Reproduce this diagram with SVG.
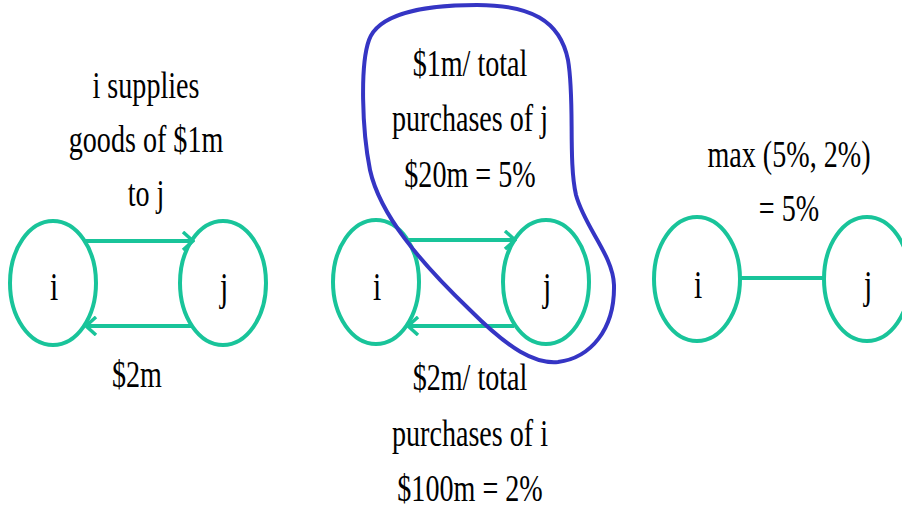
<svg xmlns="http://www.w3.org/2000/svg" width="902" height="508" viewBox="0 0 902 508">
<style>
.node{fill:none;stroke:#19C49A;stroke-width:4}
.edge{fill:none;stroke:#19C49A;stroke-width:4}
.t{font-family:"Liberation Serif","Times New Roman",serif;font-size:38px;fill:#000;text-anchor:middle}
.nl{font-size:40px}
.blob{fill:none;stroke:#3535C4;stroke-width:4}
</style>
<defs>
<marker id="arr" viewBox="0 0 14 20" refX="12" refY="10" markerWidth="14" markerHeight="20" markerUnits="userSpaceOnUse" orient="auto">
<polyline points="2,1 12,10 2,19" fill="none" stroke="#19C49A" stroke-width="3.5"/>
</marker>
</defs>
<rect width="902" height="508" fill="#fff"/>

<g id="connectors">
<line class="edge" x1="84" y1="241" x2="193" y2="241" marker-end="url(#arr)"/>
<line class="edge" x1="192" y1="326" x2="86" y2="326" marker-end="url(#arr)"/>
<line class="edge" x1="408" y1="240" x2="515" y2="240" marker-end="url(#arr)"/>
<line class="edge" x1="514" y1="326" x2="408" y2="326" marker-end="url(#arr)"/>
<line class="edge" x1="740" y1="278" x2="825" y2="278"/>
</g>

<g id="left-i"><ellipse class="node" cx="53" cy="283" rx="43" ry="62"/><g transform="translate(54 300) scale(0.74 1)"><text class="t nl" x="0" y="0">i</text></g></g>
<g id="left-j"><ellipse class="node" cx="223" cy="283" rx="43" ry="62"/><g transform="translate(224 300) scale(0.74 1)"><text class="t nl" x="0" y="0">j</text></g></g>
<g id="mid-i"><ellipse class="node" cx="376" cy="282" rx="43" ry="62"/><g transform="translate(377 300) scale(0.74 1)"><text class="t nl" x="0" y="0">i</text></g></g>
<g id="mid-j"><ellipse class="node" cx="546" cy="282" rx="43" ry="62"/><g transform="translate(547 300) scale(0.74 1)"><text class="t nl" x="0" y="0">j</text></g></g>
<g id="right-i"><ellipse class="node" cx="697" cy="279" rx="43" ry="62"/><g transform="translate(698 298) scale(0.74 1)"><text class="t nl" x="0" y="0">i</text></g></g>
<g id="right-j"><ellipse class="node" cx="867" cy="279" rx="43" ry="62"/><g transform="translate(868 298) scale(0.74 1)"><text class="t nl" x="0" y="0">j</text></g></g>

<g id="blob"><path class="blob" d="M477 5 C420 5 378 15 369 40 C360 65 362 130 370 170 C380 215 420 262 470 310 C510 350 535 364 558 362 C590 358 615 330 614 285 C613 255 585 228 576 195 C568 160 575 100 568 60 C560 20 530 5 477 5 Z"/></g>

<g id="labels">
<g transform="translate(146 0) scale(0.74 1)">
<text class="t" x="0" y="98">i supplies</text>
<text class="t" x="0" y="152">goods of $1m</text>
<text class="t" x="0" y="206">to j</text>
</g>
<g transform="translate(137 0) scale(0.74 1)"><text class="t" x="0" y="387">$2m</text></g>
<g transform="translate(470 0) scale(0.74 1)">
<text class="t" x="0" y="76">$1m/ total</text>
<text class="t" x="0" y="131">purchases of j</text>
<text class="t" x="0" y="187">$20m = 5%</text>
<text class="t" x="0" y="390">$2m/ total</text>
<text class="t" x="0" y="446">purchases of i</text>
<text class="t" x="0" y="501">$100m = 2%</text>
</g>
<g transform="translate(789 0) scale(0.74 1)">
<text class="t" x="0" y="167">max (5%, 2%)</text>
<text class="t" x="0" y="221">= 5%</text>
</g>
</g>
</svg>
